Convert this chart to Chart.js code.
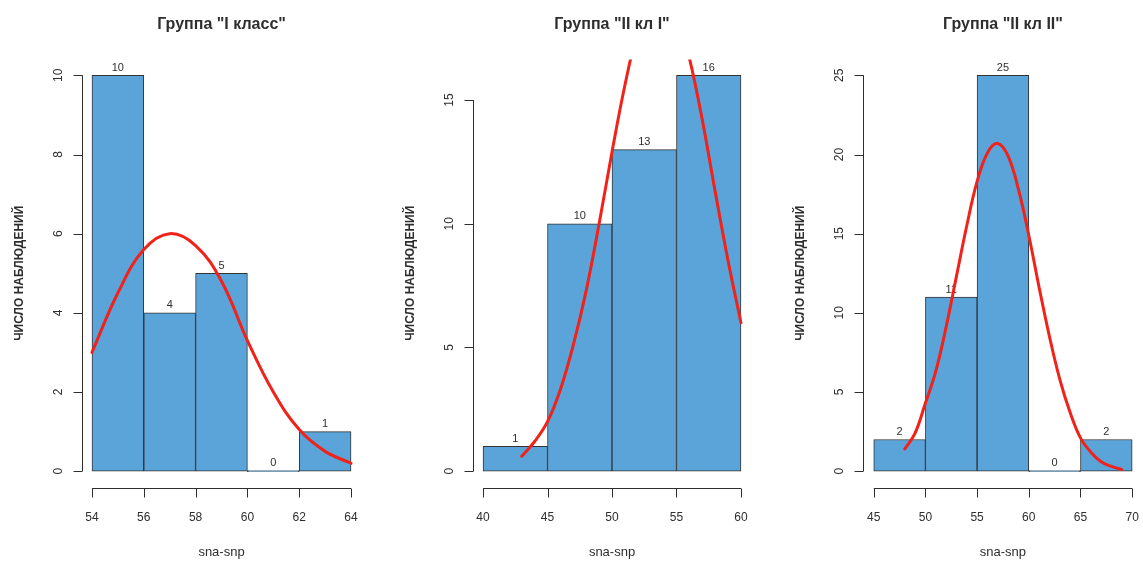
<!DOCTYPE html>
<html>
<head>
<meta charset="utf-8">
<script src="https://cdn.jsdelivr.net/npm/chart.js@4/dist/chart.umd.min.js"></script>
<style>
  body { margin: 0; background: #fff; }
  #wrap { position: relative; width: 1143px; height: 561px; overflow: hidden; }
  canvas { position: absolute; top: 0; }
</style>
</head>
<body>
<div id="wrap">
  <canvas id="g1" width="380" height="561" style="left:0px"></canvas>
  <canvas id="g2" width="380" height="561" style="left:380px"></canvas>
  <canvas id="g3" width="383" height="561" style="left:760px"></canvas>
</div>
<script>
// Group "I класс"
const g1Title = 'Группа "I класс"';
const g1Breaks = [54, 56, 58, 60, 62, 64];
const g1Counts = [10, 4, 5, 0, 1];
const g1XTicks = [54, 56, 58, 60, 62, 64];
const g1YTicks = [0, 2, 4, 6, 8, 10];
const g1CurveX = [54, 55, 56, 57, 58, 59, 60, 61, 62, 63, 64];
const g1CurveY = [3.0, 4.5, 5.6, 6.0, 5.7, 4.8, 3.3, 2.0, 1.05, 0.5, 0.2];

// Group "II кл I"
const g2Title = 'Группа "II кл I"';
const g2Breaks = [40, 45, 50, 55, 60];
const g2Counts = [1, 10, 13, 16];
const g2XTicks = [40, 45, 50, 55, 60];
const g2YTicks = [0, 5, 10, 15];
const g2CurveX = [43, 44, 45, 46, 47, 48, 49, 50, 51, 52, 53, 54, 55, 56, 57, 58, 59, 60];
const g2CurveY = [0.6, 1.2, 2.0, 3.3, 5.1, 7.3, 10.0, 12.9, 15.6, 17.8, 19.2, 19.5, 18.6, 16.7, 14.2, 11.3, 8.5, 6.0];

// Group "II кл II"
const g3Title = 'Группа "II кл II"';
const g3Breaks = [45, 50, 55, 60, 65, 70];
const g3Counts = [2, 11, 25, 0, 2];
const g3XTicks = [45, 50, 55, 60, 65, 70];
const g3YTicks = [0, 5, 10, 15, 20, 25];
const g3CurveX = [48, 49, 50, 51, 52, 53, 54, 55, 56, 57, 58, 59, 60, 61, 62, 63, 64, 65, 66, 67, 68, 69];
const g3CurveY = [1.4, 2.4, 4.3, 6.3, 9.1, 12.3, 15.5, 18.3, 20.1, 20.7, 19.9, 17.8, 14.9, 11.6, 8.5, 5.8, 3.7, 2.1, 1.2, 0.6, 0.3, 0.1];

const xLabel = 'sna-snp';
const yLabel = 'ЧИСЛО НАБЛЮДЕНИЙ';

const INK = '#2e2e2e';
const FONT = '"Liberation Sans", Arial, sans-serif';

// R-style axes, titles and labels drawn from the chart's own scales
const rAxes = {
    id: 'rAxes',
    afterDatasetDraw(chart, args, opts) {
        if (args.index !== 0) return;
        // counts above the bars (under the curve, like hist(labels=TRUE))
        const ctx = chart.ctx;
        const meta = chart.getDatasetMeta(0);
        ctx.save();
        ctx.fillStyle = INK;
        ctx.font = '11px ' + FONT;
        ctx.textAlign = 'center';
        ctx.textBaseline = 'bottom';
        meta.data.forEach((bar, i) => {
            const top = Math.min(bar.y, bar.base);
            ctx.fillText(String(opts.counts[i]), bar.x, top - 2);
        });
        ctx.restore();
    },
    afterDraw(chart, args, opts) {
        const ctx = chart.ctx;
        const area = chart.chartArea;
        const xs = chart.scales.x, ys = chart.scales.y;
        ctx.save();
        ctx.strokeStyle = INK;
        ctx.fillStyle = INK;
        ctx.lineWidth = 1;

        // y axis
        const ax = Math.round(area.left) + 0.5;
        const y0 = ys.getPixelForValue(opts.yTicks[0]);
        const y1 = ys.getPixelForValue(opts.yTicks[opts.yTicks.length - 1]);
        ctx.beginPath();
        ctx.moveTo(ax, y0); ctx.lineTo(ax, y1);
        opts.yTicks.forEach(v => {
            const p = Math.round(ys.getPixelForValue(v)) + 0.5;
            ctx.moveTo(ax, p); ctx.lineTo(ax - 9, p);
        });
        ctx.stroke();
        ctx.font = '12px ' + FONT;
        ctx.textAlign = 'center';
        ctx.textBaseline = 'middle';
        opts.yTicks.forEach(v => {
            const p = ys.getPixelForValue(v);
            ctx.save();
            ctx.translate(ax - 24, p);
            ctx.rotate(-Math.PI / 2);
            ctx.fillText(String(v), 0, 0);
            ctx.restore();
        });

        // x axis
        const ay = Math.round(area.bottom) + 1.5;
        const x0 = xs.getPixelForValue(opts.xTicks[0]);
        const x1 = xs.getPixelForValue(opts.xTicks[opts.xTicks.length - 1]);
        ctx.beginPath();
        ctx.moveTo(x0, ay); ctx.lineTo(x1, ay);
        opts.xTicks.forEach(v => {
            const p = Math.round(xs.getPixelForValue(v)) + 0.5;
            ctx.moveTo(p, ay); ctx.lineTo(p, ay + 9);
        });
        ctx.stroke();
        opts.xTicks.forEach(v => {
            ctx.fillText(String(v), xs.getPixelForValue(v), ay + 29);
        });

        const cx = (area.left + area.right) / 2;
        const cy = (area.top + area.bottom) / 2;
        ctx.font = '13px ' + FONT;
        ctx.fillText(xLabel, cx, 552);

        ctx.font = 'bold 16px ' + FONT;
        ctx.fillText(opts.title, cx, 25);

        ctx.save();
        ctx.font = 'bold 12px ' + FONT;
        ctx.translate(ax - 63, cy);
        ctx.rotate(-Math.PI / 2);
        ctx.fillText(yLabel, 0, 0);
        ctx.restore();

        ctx.restore();
    }
};

function makeHist(id, title, breaks, counts, xTicks, yTicks, curveX, curveY, pad) {
    const xMin = breaks[0], xMax = breaks[breaks.length - 1];
    const yMax = Math.max(...counts);
    const xr = (xMax - xMin) * 0.04, yr = yMax * 0.04;
    const bars = counts.map((c, i) => ({ x: (breaks[i] + breaks[i + 1]) / 2, y: c }));
    const curve = curveX.map((x, i) => ({ x: x, y: curveY[i] }));

    new Chart(document.getElementById(id), {
        type: 'bar',
        data: {
            datasets: [{
                type: 'bar',
                data: bars,
                backgroundColor: '#5BA4DA',
                borderColor: '#333333',
                borderWidth: 1,
                borderSkipped: false,
                barPercentage: 1,
                categoryPercentage: 1,
                minBarLength: 1,
                order: 2
            }, {
                type: 'line',
                data: curve,
                borderColor: '#F0221A',
                borderWidth: 3,
                borderCapStyle: 'round',
                pointRadius: 0,
                tension: 0.4,
                clip: 0,
                order: 1
            }]
        },
        options: {
            responsive: false,
            animation: false,
            layout: { padding: pad },
            plugins: {
                legend: { display: false },
                tooltip: { enabled: false },
                rAxes: { title: title, counts: counts, xTicks: xTicks, yTicks: yTicks }
            },
            scales: {
                x: { type: 'linear', offset: false, min: xMin - xr, max: xMax + xr, display: false },
                y: { type: 'linear', min: -yr, max: yMax + yr, display: false }
            }
        },
        plugins: [rAxes]
    });
}

makeHist('g1', g1Title, g1Breaks, g1Counts, g1XTicks, g1YTicks, g1CurveX, g1CurveY,
    { left: 81.6, right: 18.6, top: 59.5, bottom: 74 });
makeHist('g2', g2Title, g2Breaks, g2Counts, g2XTicks, g2YTicks, g2CurveX, g2CurveY,
    { left: 92.7, right: 8.7, top: 59.5, bottom: 74 });
makeHist('g3', g3Title, g3Breaks, g3Counts, g3XTicks, g3YTicks, g3CurveX, g3CurveY,
    { left: 103.4, right: 0.5, top: 59.5, bottom: 74 });
</script>
</body>
</html>
